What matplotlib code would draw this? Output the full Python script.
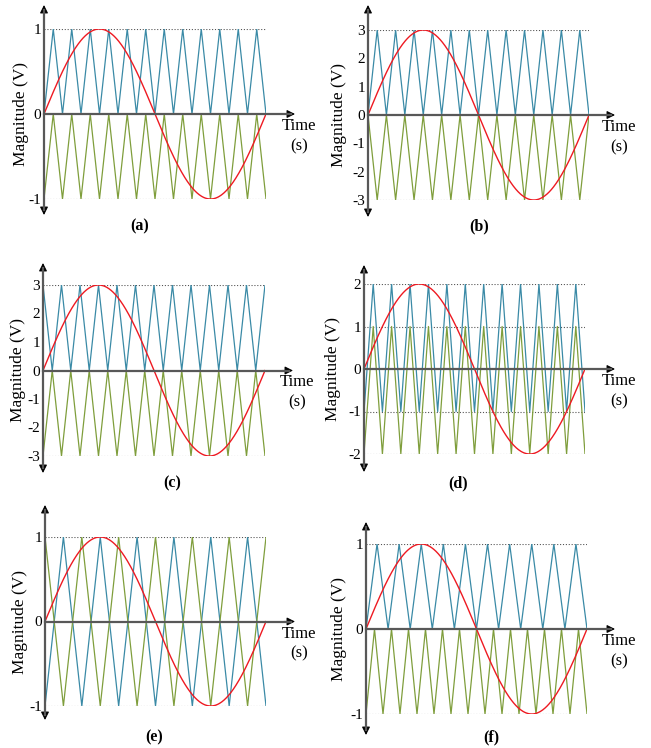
import numpy as np
import matplotlib
matplotlib.use("Agg")
import matplotlib.pyplot as plt

plt.rcParams['font.family'] = ['Liberation Serif', 'DejaVu Serif']

W, H = 651, 748

# --- data -------------------------------------------------------------
letters = ['(a)', '(b)', '(c)', '(d)', '(e)', '(f)']
sine_amp = [1, 3, 3, 2, 1, 1]
ytick_vals = [[1, 0, -1],
              [3, 2, 1, 0, -1, -2, -3],
              [3, 2, 1, 0, -1, -2, -3],
              [2, 1, 0, -1, -2],
              [1, 0, -1],
              [1, 0, -1]]
dotted_levels = [[1, -1], [3, -3], [3, -3], [2, 1, -1, -2], [1, -1], [1, -1]]
# right end of each dotted level (fraction of the sine period)
dotted_ends = [[1, 1], [1, 1], [1, 1], [1, 1, 1, 1], [1, 1], [1, 0.925]]
# carriers: (cycles, low, high, starts_at_low)
blue_carrier = [(12, 0, 1, True), (12, 0, 3, True), (12, 0, 3, False),
                (12, -1, 2, True), (6, -1, 1, True), (10, 0, 1, True)]
green_carrier = [(12, -1, 0, True), (12, -3, 0, False), (12, -3, 0, True),
                 (12, -2, 1, True), (6, -1, 1, False), (13, -1, 0, True)]

# --- layout (pixels, y measured from top) -----------------------------
# x0, x1: sine start/end; ytop, ybot: +amp / -amp rows
boxes = [(44, 266, 29, 199), (368, 589, 30, 200),
         (43, 265, 285, 456), (364, 585, 284, 454),
         (45, 266, 537, 706), (366, 587, 544, 714)]
# y arrow top, y arrow bottom, x arrow end
arrows = [(5, 215, 295), (5, 217, 615), (263, 473, 293),
          (265, 472, 615), (505, 720, 295), (522, 735, 615)]
ylabel_x = [21, 339, 18, 333, 20, 339]
letter_pos = [(140, 226), (479, 226), (172, 483), (458, 483), (154, 737), (491, 737)]

BLUE = '#3a8aa6'
GREEN = '#7f9e3c'
RED = '#ee1a22'
AXIS = '#585858'


def carrier(cycles, low, high, start_low):
    t = np.linspace(0, 1, 2 * cycles + 1)
    first, second = (low, high) if start_low else (high, low)
    v = np.where(np.arange(t.size) % 2 == 0, first, second)
    return t, v


fig = plt.figure(figsize=(W / 100, H / 100), dpi=100)

for i in range(6):
    x0, x1, ytop, ybot = boxes[i]
    ax = fig.add_axes([x0 / W, 1 - ybot / H, (x1 - x0) / W, (ybot - ytop) / H])
    amp = sine_amp[i]
    ax.set_xlim(0, 1)
    ax.set_ylim(-amp, amp)
    for s in ax.spines.values():
        s.set_visible(False)
    ax.set_xticks([])
    ax.set_yticks(ytick_vals[i])
    ax.set_yticklabels([str(v) for v in ytick_vals[i]])
    ax.tick_params(axis='y', length=0, pad=2, labelsize=11)
    ax.patch.set_alpha(0)

    for lev, end in zip(dotted_levels[i], dotted_ends[i]):
        ax.plot([0, end], [lev, lev], color='#555555', lw=0.8,
                ls=(0, (1, 1.6)), zorder=1)

    t, v = carrier(*blue_carrier[i])
    ax.plot(t, v, color=BLUE, lw=0.9, zorder=2)
    t, v = carrier(*green_carrier[i])
    ax.plot(t, v, color=GREEN, lw=0.9, zorder=2)

    x = np.linspace(0, 1, 500)
    ax.plot(x, amp * np.sin(2 * np.pi * x), color=RED, lw=1.0, zorder=3)

    # axis lines with arrow heads (axes-fraction coordinates)
    atop, abot, aright = arrows[i]
    h = ybot - ytop
    w = x1 - x0
    fy_top = (ybot - atop) / h
    fy_bot = (ybot - abot) / h
    fx_end = (aright - x0) / w
    ax.plot([0, 0], [fy_bot + 0.03, fy_top - 0.03], transform=ax.transAxes,
            color=AXIS, lw=1.6, clip_on=False, zorder=4)
    ax.plot([0, fx_end - 0.02], [0.5, 0.5], transform=ax.transAxes,
            color=AXIS, lw=1.6, clip_on=False, zorder=4)
    head = dict(arrowstyle='-|>', color='black', lw=0.8, mutation_scale=12,
                shrinkA=0, shrinkB=0)
    ax.annotate('', xy=(0, fy_top), xytext=(0, fy_top - 0.05),
                xycoords='axes fraction', arrowprops=head, annotation_clip=False)
    ax.annotate('', xy=(0, fy_bot), xytext=(0, fy_bot + 0.05),
                xycoords='axes fraction', arrowprops=head, annotation_clip=False)
    ax.annotate('', xy=(fx_end, 0.5), xytext=(fx_end - 0.05, 0.5),
                xycoords='axes fraction', arrowprops=head, annotation_clip=False)

    yzero = (ytop + ybot) / 2
    fig.text((aright + 4) / W, 1 - (yzero + 12) / H, 'Time',
             ha='center', va='center', fontsize=12)
    fig.text((aright + 4) / W, 1 - (yzero + 32) / H, '(s)',
             ha='center', va='center', fontsize=12)

    fig.text(ylabel_x[i] / W, 1 - yzero / H, 'Magnitude (V)', rotation=90,
             ha='center', va='center', fontsize=12.5)
    px, py = letter_pos[i]
    fig.text(px / W, 1 - py / H, letters[i], ha='center', va='center',
             fontsize=11.5, fontweight='bold')

fig.savefig('out.png', dpi=100)
